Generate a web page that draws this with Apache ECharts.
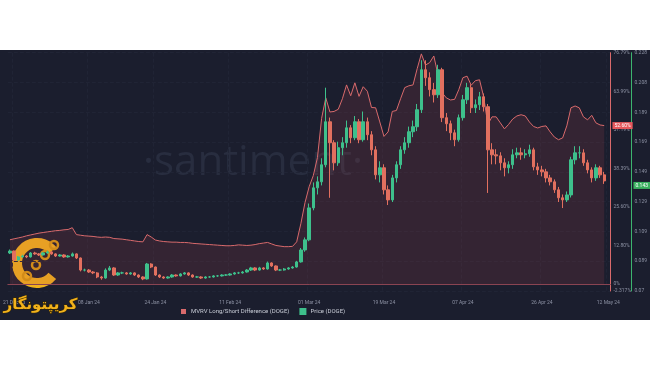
<!DOCTYPE html>
<html>
<head>
<meta charset="utf-8">
<script src="https://cdn.jsdelivr.net/npm/echarts@6/dist/echarts.min.js"></script>
<style>
    html, body { margin: 0; padding: 0; background: #fff; }
    #chart { position: absolute; left: 0; top: 50px; width: 650px; height: 270px; background: #1b1e2e; }
</style>
</head>
<body>
<div id="chart"></div>
<script>
// daily DOGE, 20 Dec 23 -> 11 May 24 (last category 12 May is empty)
const startDay = Date.UTC(2023, 11, 20);
const dayCount = 145;
const MONTHS = ['Jan', 'Feb', 'Mar', 'Apr', 'May', 'Jun', 'Jul', 'Aug', 'Sep', 'Oct', 'Nov', 'Dec'];

const xTickLabels = ['21 Dec 23', '08 Jan 24', '24 Jan 24', '11 Feb 24', '01 Mar 24', '19 Mar 24', '07 Apr 24', '26 Apr 24', '12 May 24'];

const mvrvTickValues = [-2.317, 0, 12.8, 25.6, 38.39, 51.19, 63.99, 76.79];
const mvrvTickLabels = ['-2.317%', '0%', '12.80%', '25.60%', '38.39%', '51.19%', '63.99%', '76.79%'];
const priceTickValues = [0.07, 0.08975, 0.1095, 0.12925, 0.149, 0.16875, 0.1885, 0.20825, 0.228];
const priceTickLabels = ['0.07', '0.089', '0.109', '0.129', '0.149', '0.169', '0.189', '0.208', '0.228'];

// MVRV Long/Short Difference, %
const mvrv = [
    14.7, 15.0, 15.3, 15.6, 16.0, 16.3, 16.6, 16.9, 17.1, 17.3, 17.5, 17.7, 17.8, 18.0, 18.1, 18.7,
    16.4, 16.2, 16.0, 15.9, 15.8, 15.6, 15.5, 15.6, 15.5, 15.1, 15.0, 14.9, 14.7, 14.5, 14.3, 14.1,
    14.0, 16.4, 15.6, 14.6, 14.3, 14.1, 14.0, 13.9, 13.9, 13.8, 13.8, 13.7, 13.5, 13.4, 13.3, 13.2,
    13.1, 13.0, 12.9, 12.8, 12.7, 12.7, 12.8, 13.0, 12.9, 12.8, 12.9, 13.1, 13.4, 13.6, 13.8, 13.3,
    12.8, 12.6, 12.4, 12.4, 12.5, 14.0, 20.0, 27.0, 32.3, 36.0, 42.0, 55.0, 61.8, 57.1, 57.3, 58.0,
    61.5, 66.1, 62.5, 66.8, 62.3, 65.5, 64.0, 58.6, 58.5, 53.8, 49.0, 50.5, 57.3, 57.6, 61.5, 65.2,
    65.8, 66.1, 71.5, 76.4, 72.7, 73.5, 75.7, 69.5, 63.5, 61.8, 61.1, 61.3, 64.5, 68.5, 69.0, 66.0,
    67.5, 67.8, 62.1, 53.0, 55.5, 55.5, 53.5, 51.5, 53.0, 54.8, 55.8, 56.2, 55.8, 53.8, 52.3, 51.8,
    52.3, 52.5, 50.5, 48.8, 47.9, 48.5, 52.5, 58.5, 59.1, 58.5, 55.5, 54.5, 56.0, 53.5, 52.8, 52.6
];

// Price, [open, close, low, high]
const priceOHLC = [
    [0.0952, 0.0965, 0.0945, 0.0975], [0.0965, 0.0906, 0.0900, 0.0968], [0.0906, 0.0926, 0.0902, 0.0932], [0.0926, 0.0932, 0.0920, 0.0940],
    [0.0932, 0.0926, 0.0918, 0.0938], [0.0926, 0.0952, 0.0922, 0.0958], [0.0952, 0.0946, 0.0940, 0.0960], [0.0946, 0.0939, 0.0932, 0.0952],
    [0.0939, 0.0952, 0.0935, 0.0958], [0.0952, 0.0959, 0.0948, 0.0968], [0.0959, 0.0946, 0.0940, 0.0964], [0.0946, 0.0932, 0.0926, 0.0950],
    [0.0932, 0.0939, 0.0928, 0.0945], [0.0939, 0.0926, 0.0920, 0.0944], [0.0926, 0.0932, 0.0921, 0.0938], [0.0932, 0.0946, 0.0928, 0.0955],
    [0.0946, 0.0919, 0.0912, 0.0950], [0.0919, 0.0839, 0.0830, 0.0922], [0.0839, 0.0839, 0.0830, 0.0848], [0.0839, 0.0826, 0.0820, 0.0845],
    [0.0826, 0.0820, 0.0812, 0.0832], [0.0820, 0.0793, 0.0785, 0.0825], [0.0793, 0.0786, 0.0775, 0.0800], [0.0786, 0.0839, 0.0782, 0.0850],
    [0.0839, 0.0853, 0.0832, 0.0866], [0.0853, 0.0806, 0.0800, 0.0858], [0.0806, 0.0820, 0.0800, 0.0826], [0.0820, 0.0820, 0.0812, 0.0828],
    [0.0820, 0.0813, 0.0808, 0.0826], [0.0813, 0.0820, 0.0808, 0.0826], [0.0820, 0.0806, 0.0800, 0.0824], [0.0806, 0.0793, 0.0786, 0.0810],
    [0.0793, 0.0780, 0.0772, 0.0798], [0.0780, 0.0879, 0.0776, 0.0886], [0.0879, 0.0859, 0.0852, 0.0884], [0.0859, 0.0806, 0.0800, 0.0862],
    [0.0806, 0.0793, 0.0786, 0.0810], [0.0793, 0.0786, 0.0780, 0.0798], [0.0786, 0.0793, 0.0782, 0.0798], [0.0793, 0.0806, 0.0788, 0.0812],
    [0.0806, 0.0800, 0.0795, 0.0810], [0.0800, 0.0813, 0.0796, 0.0818], [0.0813, 0.0820, 0.0808, 0.0826], [0.0820, 0.0806, 0.0800, 0.0824],
    [0.0806, 0.0793, 0.0788, 0.0810], [0.0793, 0.0793, 0.0787, 0.0800], [0.0793, 0.0786, 0.0780, 0.0798], [0.0786, 0.0793, 0.0782, 0.0798],
    [0.0793, 0.0793, 0.0788, 0.0799], [0.0793, 0.0800, 0.0789, 0.0805], [0.0800, 0.0800, 0.0794, 0.0806], [0.0800, 0.0806, 0.0796, 0.0811],
    [0.0806, 0.0806, 0.0800, 0.0812], [0.0806, 0.0813, 0.0802, 0.0818], [0.0813, 0.0820, 0.0808, 0.0826], [0.0820, 0.0820, 0.0813, 0.0827],
    [0.0820, 0.0826, 0.0815, 0.0832], [0.0826, 0.0839, 0.0822, 0.0845], [0.0839, 0.0853, 0.0833, 0.0860], [0.0853, 0.0839, 0.0832, 0.0858],
    [0.0839, 0.0853, 0.0835, 0.0860], [0.0853, 0.0846, 0.0840, 0.0858], [0.0846, 0.0886, 0.0842, 0.0895], [0.0886, 0.0866, 0.0860, 0.0890],
    [0.0866, 0.0839, 0.0832, 0.0870], [0.0839, 0.0839, 0.0832, 0.0846], [0.0839, 0.0846, 0.0835, 0.0852], [0.0846, 0.0853, 0.0841, 0.0858],
    [0.0853, 0.0859, 0.0848, 0.0865], [0.0859, 0.0893, 0.0855, 0.0900], [0.0893, 0.0972, 0.0888, 0.0985], [0.0972, 0.1039, 0.0960, 0.1055],
    [0.1039, 0.1251, 0.1030, 0.1280], [0.1251, 0.1384, 0.1235, 0.1420], [0.1384, 0.1424, 0.1340, 0.1460], [0.1424, 0.1537, 0.1400, 0.1580],
    [0.1537, 0.1822, 0.1520, 0.2048], [0.1822, 0.1683, 0.1318, 0.1850], [0.1683, 0.1550, 0.1500, 0.1700], [0.1550, 0.1650, 0.1530, 0.1690],
    [0.1650, 0.1683, 0.1600, 0.1720], [0.1683, 0.1782, 0.1650, 0.1830], [0.1782, 0.1716, 0.1680, 0.1800], [0.1716, 0.1822, 0.1700, 0.1860],
    [0.1822, 0.1703, 0.1680, 0.1840], [0.1703, 0.1822, 0.1690, 0.1890], [0.1822, 0.1736, 0.1700, 0.1850], [0.1736, 0.1636, 0.1600, 0.1760],
    [0.1636, 0.1470, 0.1440, 0.1660], [0.1470, 0.1517, 0.1420, 0.1560], [0.1517, 0.1371, 0.1340, 0.1540], [0.1371, 0.1304, 0.1270, 0.1400],
    [0.1304, 0.1450, 0.1290, 0.1470], [0.1450, 0.1537, 0.1420, 0.1560], [0.1537, 0.1636, 0.1510, 0.1660], [0.1636, 0.1683, 0.1610, 0.1720],
    [0.1683, 0.1756, 0.1650, 0.1790], [0.1756, 0.1789, 0.1720, 0.1830], [0.1789, 0.1902, 0.1760, 0.1940], [0.1902, 0.2167, 0.1880, 0.2230],
    [0.2167, 0.2114, 0.2060, 0.2230], [0.2114, 0.2035, 0.1990, 0.2150], [0.2035, 0.2001, 0.1950, 0.2080], [0.2001, 0.2167, 0.1980, 0.2200],
    [0.2167, 0.1849, 0.1820, 0.2180], [0.1849, 0.1809, 0.1760, 0.1880], [0.1809, 0.1749, 0.1700, 0.1830], [0.1749, 0.1703, 0.1660, 0.1770],
    [0.1703, 0.1849, 0.1690, 0.1870], [0.1849, 0.1968, 0.1830, 0.2000], [0.1968, 0.2048, 0.1940, 0.2080], [0.2048, 0.1915, 0.1880, 0.2070],
    [0.1915, 0.1935, 0.1880, 0.1970], [0.1935, 0.1988, 0.1900, 0.2020], [0.1988, 0.1922, 0.1890, 0.2010], [0.1922, 0.1636, 0.1350, 0.1940],
    [0.1636, 0.1603, 0.1540, 0.1680], [0.1603, 0.1596, 0.1540, 0.1640], [0.1596, 0.1550, 0.1500, 0.1620], [0.1550, 0.1517, 0.1460, 0.1580],
    [0.1517, 0.1537, 0.1480, 0.1560], [0.1537, 0.1603, 0.1510, 0.1640], [0.1603, 0.1616, 0.1580, 0.1650], [0.1616, 0.1603, 0.1570, 0.1650],
    [0.1603, 0.1610, 0.1580, 0.1640], [0.1610, 0.1636, 0.1590, 0.1670], [0.1636, 0.1523, 0.1500, 0.1650], [0.1523, 0.1503, 0.1470, 0.1550],
    [0.1503, 0.1490, 0.1460, 0.1530], [0.1490, 0.1450, 0.1420, 0.1510], [0.1450, 0.1424, 0.1400, 0.1470], [0.1424, 0.1371, 0.1350, 0.1440],
    [0.1371, 0.1318, 0.1290, 0.1390], [0.1318, 0.1304, 0.1250, 0.1340], [0.1304, 0.1337, 0.1290, 0.1360], [0.1337, 0.1570, 0.1320, 0.1590],
    [0.1570, 0.1616, 0.1540, 0.1660], [0.1616, 0.1616, 0.1580, 0.1660], [0.1616, 0.1550, 0.1530, 0.1640], [0.1550, 0.1503, 0.1480, 0.1570],
    [0.1503, 0.1450, 0.1420, 0.1520], [0.1450, 0.1517, 0.1430, 0.1540], [0.1517, 0.1470, 0.1450, 0.1530], [0.1470, 0.1430, 0.1410, 0.1490]
];

const RED = '#d96a6c';
const GREEN = '#3ec08c';
const DOWN = '#e2705f';
const AXIS_TEXT = '#8c91a3';
const GRID_LINE = '#202435';

function fmtDay(t) {
    const d = new Date(t);
    return String(d.getUTCDate()).padStart(2, '0') + ' ' + MONTHS[d.getUTCMonth()] + ' ' + String(d.getUTCFullYear()).slice(2);
}

const days = [];
for (let i = 0; i < dayCount; i++) days.push(fmtDay(startDay + i * 86400000));

function pickLabel(values, labels) {
    return (v) => {
        const k = values.findIndex((x) => Math.abs(x - v) < 1e-6);
        return k < 0 ? '' : labels[k];
    };
}

const showTick = (idx, val) => xTickLabels.includes(val);

const lastMvrv = mvrv[mvrv.length - 1];
const lastPrice = priceOHLC[priceOHLC.length - 1][1];

// badge on an axis: invisible markLine whose end label sits at the axis
function badge(value, text, bg, distance) {
    return {
        silent: true,
        symbol: 'none',
        animation: false,
        lineStyle: { color: 'rgba(0,0,0,0)', width: 0 },
        label: {
            show: true, position: 'end', distance: distance, formatter: text,
            color: '#fff', backgroundColor: bg, fontSize: 5, padding: [1, 2]
        },
        data: [{ yAxis: value }]
    };
}

const chart = echarts.init(document.getElementById('chart'));

chart.setOption({
    animation: false,
    textStyle: { fontFamily: 'Roboto, "Noto Sans", sans-serif' },
    grid: { left: 0, right: 38, top: 2.7, bottom: 29 },
    legend: {
        left: 176,
        top: 253,
        icon: 'rect',
        itemWidth: 5,
        itemHeight: 5,
        itemGap: 10,
        textStyle: { color: '#c8ccd6', fontSize: 6 },
        data: ['MVRV Long/Short Difference (DOGE)', 'Price (DOGE)']
    },
    graphic: [
        {
            type: 'text', left: 143, top: 92, silent: true, z: -1,
            style: { text: '·santiment·', fill: '#282d3f', fontSize: 42, fontFamily: '"Open Sans", sans-serif', fontWeight: 400 }
        },
        {
            type: 'group', left: 12, top: 188, silent: true, z: 10,
            children: [
                { type: 'arc', shape: { cx: 24, cy: 28, r: 20, startAngle: 0.7, endAngle: 5.6 }, style: { stroke: '#f2b21c', lineWidth: 10, fill: null } },
                { type: 'circle', shape: { cx: 41, cy: 10, r: 4 }, style: { stroke: '#d89a10', lineWidth: 2.5, fill: null } },
                { type: 'circle', shape: { cx: 32, cy: 20, r: 4 }, style: { stroke: '#d89a10', lineWidth: 2.5, fill: null } },
                { type: 'circle', shape: { cx: 23, cy: 30, r: 4 }, style: { stroke: '#d89a10', lineWidth: 2.5, fill: null } },
                { type: 'circle', shape: { cx: 14, cy: 41, r: 4 }, style: { stroke: '#d89a10', lineWidth: 2.5, fill: null } }
            ]
        },
        {
            type: 'text', left: 3, top: 247, silent: true, z: 10,
            style: { text: 'کریپتونگار', fill: '#f2b21c', fontSize: 15, fontWeight: 'bold', fontFamily: '"DejaVu Sans", sans-serif', stroke: '#3a2a00', lineWidth: 1 }
        }
    ],
    xAxis: {
        type: 'category',
        data: days,
        boundaryGap: true,
        axisLine: { lineStyle: { color: '#8a4452' } },
        axisTick: { show: false, interval: showTick },
        axisLabel: { interval: showTick, color: AXIS_TEXT, fontSize: 5, margin: 9 },
        splitLine: { show: true, interval: showTick, lineStyle: { color: GRID_LINE, type: 'dashed' } }
    },
    yAxis: [
        {
            type: 'value',
            position: 'right',
            min: -2.317,
            max: 76.79,
            axisLine: { show: true, lineStyle: { color: RED } },
            axisTick: { show: false, customValues: mvrvTickValues },
            axisLabel: { customValues: mvrvTickValues, formatter: pickLabel(mvrvTickValues, mvrvTickLabels), color: AXIS_TEXT, fontSize: 5, margin: 3 },
            splitLine: { show: false }
        },
        {
            type: 'value',
            position: 'right',
            offset: 21,
            min: 0.07,
            max: 0.228,
            axisLine: { show: true, lineStyle: { color: '#3cb46e' } },
            axisTick: { show: false, customValues: priceTickValues },
            axisLabel: { customValues: priceTickValues, formatter: pickLabel(priceTickValues, priceTickLabels), color: AXIS_TEXT, fontSize: 5, margin: 3 },
            splitLine: { show: true, lineStyle: { color: GRID_LINE, type: 'dashed' } }
        }
    ],
    series: [
        {
            name: 'MVRV Long/Short Difference (DOGE)',
            type: 'line',
            yAxisIndex: 0,
            data: mvrv,
            showSymbol: false,
            clip: false,
            color: RED,
            lineStyle: { color: RED, width: 1 },
            areaStyle: { color: 'rgba(175, 72, 78, 0.24)' },
            z: 1,
            markLine: badge(lastMvrv, lastMvrv.toFixed(2) + '%', '#e5585c', 2)
        },
        {
            name: 'Price (DOGE)',
            type: 'candlestick',
            yAxisIndex: 1,
            data: priceOHLC,
            barWidth: '70%',
            clip: false,
            itemStyle: { color: GREEN, color0: DOWN, borderColor: GREEN, borderColor0: DOWN, borderWidth: 1 },
            z: 2,
            markLine: badge(lastPrice, lastPrice.toFixed(3), '#3bb160', 23)
        }
    ]
});

window.addEventListener('resize', () => chart.resize());
</script>
</body>
</html>
